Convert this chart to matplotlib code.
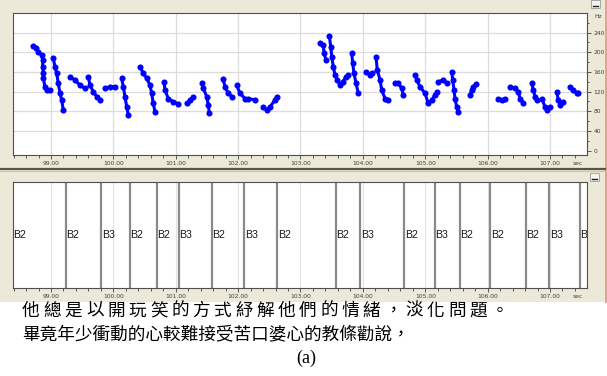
import matplotlib
matplotlib.use("Agg")
import matplotlib.pyplot as plt
from matplotlib.patches import Rectangle
from matplotlib.lines import Line2D
from matplotlib.ticker import MultipleLocator, FixedLocator

W, H = 607, 376

# pitch track, one list of (time, Hz) per voiced stretch
pitch_segments = [
    [(98.716, 212.6), (98.759, 208), (98.796, 201), (98.851, 194), (98.867, 184), (98.867, 170.5),
     (98.876, 157), (98.876, 147), (98.904, 130), (98.931, 123), (98.984, 123)],
    [(99.037, 187.6), (99.064, 170.5), (99.091, 157), (99.117, 137), (99.144, 116.5), (99.172, 103), (99.197, 82.6)],
    [(99.305, 150), (99.385, 143.6), (99.465, 133), (99.545, 126.7)],
    [(99.598, 150), (99.625, 133), (99.678, 120), (99.733, 110), (99.786, 103)],
    [(99.866, 126.7), (99.946, 130), (100.026, 130)],
    [(100.133, 147), (100.159, 130), (100.186, 110), (100.214, 89), (100.239, 72.5)],
    [(100.427, 170.5), (100.480, 157), (100.534, 147), (100.587, 133), (100.614, 116.5), (100.640, 96), (100.667, 79)],
    [(100.812, 140), (100.828, 123), (100.881, 106), (100.961, 99.5), (101.041, 95)],
    [(101.175, 96), (101.228, 103), (101.281, 110)],
    [(101.416, 137), (101.442, 126.7), (101.496, 110), (101.522, 93), (101.538, 76)],
    [(101.762, 145), (101.789, 130), (101.842, 116.5), (101.897, 110)],
    [(101.977, 133), (102.030, 116.5), (102.110, 106), (102.163, 106), (102.270, 103)],
    [(102.404, 89), (102.458, 82.6), (102.511, 89), (102.591, 103), (102.618, 110)],
    [(103.313, 219), (103.366, 214.6), (103.377, 198), (103.409, 184)],
    [(103.462, 233), (103.485, 211), (103.501, 191), (103.526, 170.5), (103.553, 153.7), (103.590, 143.6),
     (103.633, 133.4), (103.676, 140), (103.729, 150), (103.766, 153.7)],
    [(103.821, 197.8), (103.837, 177.5), (103.858, 157), (103.890, 137), (103.927, 116.5)],
    [(104.050, 160.4), (104.114, 153.7), (104.141, 157)],
    [(104.210, 191), (104.231, 164), (104.275, 143.6), (104.302, 123), (104.355, 106), (104.408, 103)],
    [(104.515, 137), (104.568, 137), (104.622, 126.7), (104.648, 113)],
    [(104.836, 153.7), (104.863, 143.6), (104.916, 130), (104.996, 116.5), (105.049, 96), (105.104, 103),
     (105.156, 113), (105.183, 120)],
    [(105.209, 140), (105.289, 143.6), (105.344, 137)],
    [(105.424, 160.4), (105.440, 143.6), (105.461, 123), (105.477, 106), (105.504, 89), (105.530, 79)],
    [(105.717, 113), (105.744, 123), (105.770, 130), (105.813, 135.4)],
    [(106.171, 106), (106.226, 103), (106.279, 106)],
    [(106.359, 130), (106.439, 126.7), (106.492, 120), (106.519, 106), (106.572, 96)],
    [(106.707, 137), (106.733, 123), (106.760, 110), (106.797, 103)],
    [(106.867, 106), (106.920, 89), (106.947, 82.6), (107.000, 89)],
    [(107.107, 120), (107.133, 103), (107.160, 93), (107.213, 99.5)],
    [(107.321, 130), (107.374, 123), (107.429, 116.5), (107.454, 116.5)],
]

# interval tier
boundaries = [99.236, 99.806, 100.262, 100.695, 101.047, 101.581, 102.099, 102.628,
              103.564, 103.959, 104.664, 105.156, 105.557, 106.043, 106.610, 106.989, 107.481]
labels = ["B2", "B2", "B3", "B2", "B2", "B3", "B2", "B3", "B2",
          "B2", "B3", "B2", "B3", "B2", "B2", "B2", "B3", "B3"]

sec_ticks = [99, 100, 101, 102, 103, 104, 105, 106, 107]
hz_ticks = [0, 40, 80, 120, 160, 200, 240]
t_min, t_max = 98.391, 107.593

caption1 = "他總是以開玩笑的方式紓解他們的情緒，淡化問題。"
caption2 = "畢竟年少衝動的心較難接受苦口婆心的教條勸說，"
caption3 = "(a)"

BEIGE = "#ece9d8"
TICK_C = "#404040"


def px_box(l, t, r, b):
    return [l / W, 1 - b / H, (r - l) / W, (b - t) / H]


fig = plt.figure(figsize=(W / 100, H / 100), dpi=100)
fig.patch.set_facecolor("white")

# window background and chrome
fig.add_artist(Rectangle((0, 1 - 302 / H), 605 / W, 302 / H, transform=fig.transFigure,
                         facecolor=BEIGE, edgecolor="none", zorder=0))
fig.add_artist(Line2D([605.5 / W, 605.5 / W], [1 - 302 / H, 1], transform=fig.transFigure,
                      color="#e0907c", lw=1.2))
fig.add_artist(Line2D([0, 605 / W], [1 - 169 / H, 1 - 169 / H], transform=fig.transFigure,
                      color="#5c5440", lw=1.6))
fig.add_artist(Line2D([0, 605 / W], [1 - 171 / H, 1 - 171 / H], transform=fig.transFigure,
                      color="#c8c4b0", lw=0.8))
for bx, by in [(591, 0), (590, 173)]:
    fig.add_artist(Rectangle((bx / W, 1 - (by + 8) / H), 9 / W, 8 / H, transform=fig.transFigure,
                             facecolor="#f4f3ee", edgecolor="#9a9a9a", lw=0.6))
    fig.add_artist(Line2D([(bx + 2) / W, (bx + 7) / W], [1 - (by + 6) / H] * 2,
                          transform=fig.transFigure, color="#202020", lw=1.0))


def style_time_axis(ax):
    ax.set_xlim(t_min, t_max)
    ax.xaxis.set_major_locator(FixedLocator(sec_ticks))
    ax.xaxis.set_minor_locator(MultipleLocator(0.2))
    ax.set_xticklabels(["%.2f" % t for t in sec_ticks])
    ax.tick_params(axis="x", which="both", direction="out", colors=TICK_C, labelsize=4.3,
                   pad=1.5, width=0.6)
    ax.tick_params(axis="x", which="major", length=3)
    ax.tick_params(axis="x", which="minor", length=2)
    for s in ax.spines.values():
        s.set_color("#505050")
        s.set_linewidth(0.8)
    ax.annotate("sec", xy=(107.45, 0), xycoords=("data", "axes fraction"),
                xytext=(0, -6.3), textcoords="offset points", fontsize=4.3,
                color=TICK_C, ha="center", va="center", annotation_clip=False)


# pitch panel
ax1 = fig.add_axes(px_box(13, 13, 587, 155))
style_time_axis(ax1)
ax1.set_ylim(-8.7, 279.6)
ax1.yaxis.tick_right()
ax1.yaxis.set_major_locator(FixedLocator(hz_ticks))
ax1.yaxis.set_minor_locator(MultipleLocator(20))
ax1.tick_params(axis="y", which="both", direction="out", colors=TICK_C, labelsize=4.3,
                pad=1.5, width=0.6)
ax1.tick_params(axis="y", which="major", length=3)
ax1.tick_params(axis="y", which="minor", length=1.5)
for t in sec_ticks:
    ax1.axvline(t, color="#dcdcdc", lw=0.9, zorder=1)
for h in hz_ticks[1:]:
    ax1.axhline(h, color="#dcdcdc", lw=0.9, zorder=1)
for seg in pitch_segments:
    ts = [p[0] for p in seg]
    hz = [p[1] for p in seg]
    ax1.plot(ts, hz, color="#0000ff", lw=2.2, marker="o", markersize=4.4,
             markeredgewidth=0, solid_capstyle="round", zorder=3)
ax1.text(1.012, 272, "Hz", transform=ax1.get_yaxis_transform(), fontsize=4.3,
         color=TICK_C, ha="left", va="center")

# interval tier panel
ax2 = fig.add_axes(px_box(13, 182, 587, 288))
style_time_axis(ax2)
ax2.set_ylim(0, 1)
ax2.set_yticks([])
for t in sec_ticks:
    ax2.axvline(t, color="#e4e4e4", lw=0.8, zorder=1)
for b in boundaries:
    ax2.axvline(b, color="#8a8a8a", lw=1.6, zorder=2)
starts = [t_min] + boundaries
for s, lab in zip(starts, labels):
    ax2.text(s + 0.006, 0.5, lab, fontsize=7.6, family="Liberation Sans", color="#1a1a1a",
             ha="left", va="center", clip_on=True, zorder=3)

# caption below the window
cjk = ["Noto Sans CJK TC", "DejaVu Sans"]
step1 = 21.3
for i, ch in enumerate(caption1):
    fig.text((22 + i * step1) / W, 1 - 311 / H, ch, fontsize=12.7, family=cjk,
             ha="left", va="center", color="black")
fig.text(22 / W, 1 - 334 / H, caption2, fontsize=12.7, family=cjk,
         ha="left", va="center", color="black")
fig.text(306 / W, 1 - 358 / H, caption3, fontsize=13, family="Liberation Serif",
         ha="center", va="center", color="black")

fig.savefig("out.png", dpi=100, facecolor="white")
